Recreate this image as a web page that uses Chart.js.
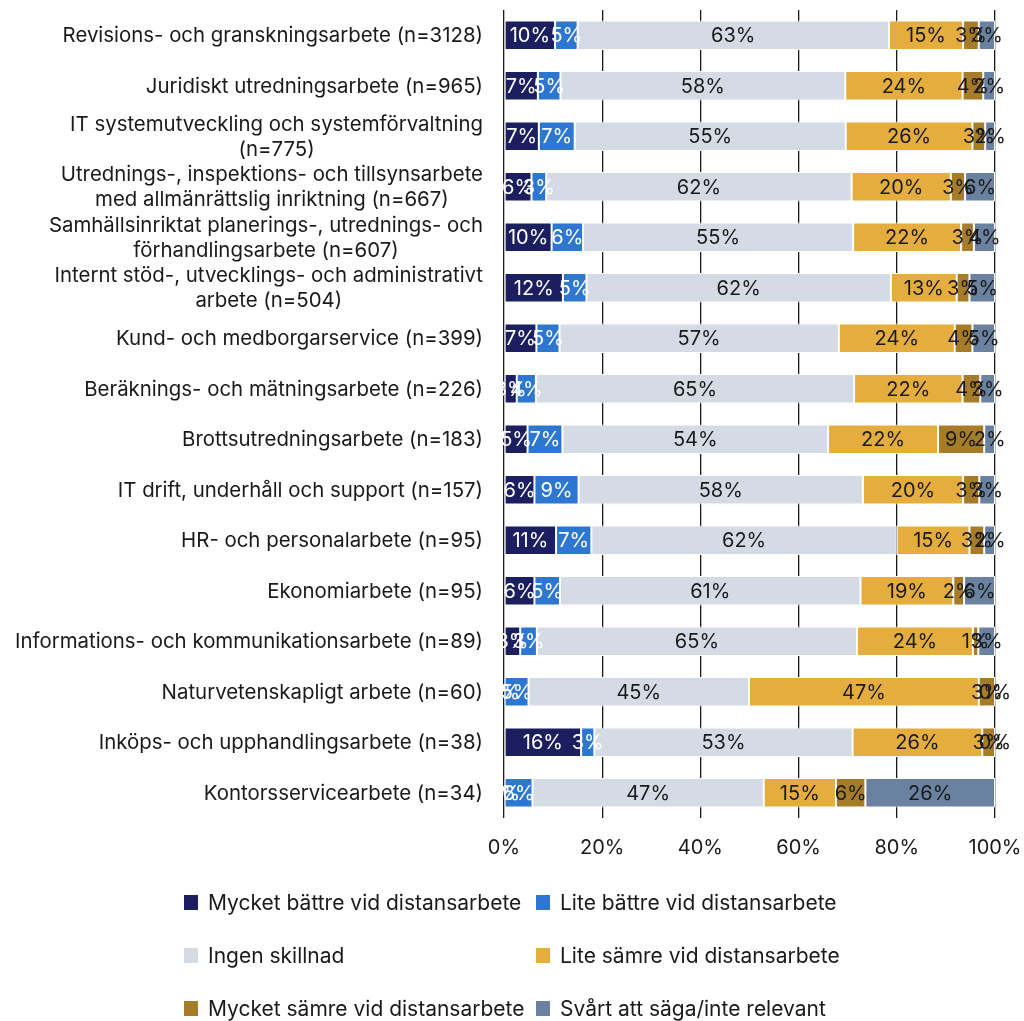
<!DOCTYPE html>
<html>
<head>
<meta charset="utf-8">
<script src="https://cdn.jsdelivr.net/npm/chart.js@4/dist/chart.umd.min.js"></script>
<style>
  html, body { margin: 0; padding: 0; background: #ffffff; }
  #wrap { width: 1024px; height: 1021px; position: relative; }
</style>
</head>
<body>
<div id="wrap"><canvas id="c"></canvas></div>
<script>
// Yrkesområden (kategorier) med antal svar
const categories = [
  "Revisions- och granskningsarbete (n=3128)",
  "Juridiskt utredningsarbete (n=965)",
  ["IT systemutveckling och systemförvaltning", "(n=775)"],
  ["Utrednings-, inspektions- och tillsynsarbete", "med allmänrättslig inriktning (n=667)"],
  ["Samhällsinriktat planerings-, utrednings- och", "förhandlingsarbete (n=607)"],
  ["Internt stöd-, utvecklings- och administrativt", "arbete (n=504)"],
  "Kund- och medborgarservice (n=399)",
  "Beräknings- och mätningsarbete (n=226)",
  "Brottsutredningsarbete (n=183)",
  "IT drift, underhåll och support (n=157)",
  "HR- och personalarbete (n=95)",
  "Ekonomiarbete (n=95)",
  "Informations- och kommunikationsarbete (n=89)",
  "Naturvetenskapligt arbete (n=60)",
  "Inköps- och upphandlingsarbete (n=38)",
  "Kontorsservicearbete (n=34)"
];

const seriesNames = [
  "Mycket bättre vid distansarbete",
  "Lite bättre vid distansarbete",
  "Ingen skillnad",
  "Lite sämre vid distansarbete",
  "Mycket sämre vid distansarbete",
  "Svårt att säga/inte relevant"
];

// Andel svarande (%) per svarsalternativ
const muchBetter     = [10.4, 6.9, 7.1, 5.6, 9.7, 12.0, 6.6, 2.6, 4.8, 6.2, 10.6, 6.2, 3.3, 0.0, 15.7, 0.0];
const slightlyBetter = [4.6, 4.6, 7.3, 3.0, 6.4, 4.8, 4.7, 3.9, 7.1, 9.0, 7.2, 5.2, 3.4, 5.0, 2.7, 5.8];
const noDifference   = [63.4, 58.0, 55.2, 62.2, 55.0, 62.0, 56.9, 64.8, 54.1, 57.9, 62.2, 61.2, 65.2, 44.9, 52.6, 47.1];
const slightlyWorse  = [15.1, 23.9, 25.8, 20.2, 22.0, 13.4, 23.6, 22.1, 22.4, 20.4, 14.8, 18.9, 23.6, 46.8, 26.4, 14.7];
const muchWorse      = [3.2, 4.2, 2.6, 2.9, 2.6, 2.6, 3.6, 3.6, 9.4, 3.3, 3.0, 2.2, 1.1, 3.3, 2.6, 6.0];
const hardToSay      = [3.3, 2.4, 2.0, 6.1, 4.3, 5.2, 4.6, 3.0, 2.2, 3.2, 2.2, 6.3, 3.4, 0.0, 0.0, 26.4];

const xTickValues = [0, 20, 40, 60, 80, 100];

const seriesValues = [muchBetter, slightlyBetter, noDifference, slightlyWorse, muchWorse, hardToSay];
const seriesColors = ["#1c1f5f", "#2e77d0", "#d5dbe5", "#e4ad3e", "#a67c29", "#6a82a0"];
const labelColors  = ["#ffffff", "#ffffff", "#1a1a1a", "#1a1a1a", "#1a1a1a", "#1a1a1a"];

const FONT = "Inter, Roboto, 'Liberation Sans', sans-serif";
const FONT_SIZE = 20;
const CATEGORY_FONT_SIZE = 20.4;
const LEGEND_FONT_SIZE = 21;

// Procentetiketter mitt i varje segment
const segmentLabels = {
  id: "segmentLabels",
  afterDatasetsDraw(chart) {
    const ctx = chart.ctx;
    ctx.save();
    ctx.font = FONT_SIZE + "px " + FONT;
    ctx.textAlign = "center";
    ctx.textBaseline = "middle";
    chart.data.datasets.forEach((ds, di) => {
      const meta = chart.getDatasetMeta(di);
      ctx.fillStyle = labelColors[di];
      meta.data.forEach((bar, i) => {
        const v = ds.data[i];
        const cx = (bar.x + bar.base) / 2;
        ctx.fillText(Math.round(v) + "%", cx, bar.y + 1);
      });
    });
    ctx.restore();
  }
};

// Kategorietiketter: högerställda block, flerradiga centrerade inom blocket
const categoryLabels = {
  id: "categoryLabels",
  afterDraw(chart) {
    const ctx = chart.ctx;
    const scale = chart.scales.y;
    const right = chart.chartArea.left - 21;
    const lineH = 25;
    ctx.save();
    ctx.font = CATEGORY_FONT_SIZE + "px " + FONT;
    ctx.fillStyle = "#1a1a1a";
    ctx.textBaseline = "middle";
    ctx.textAlign = "center";
    categories.forEach((cat, i) => {
      const lines = Array.isArray(cat) ? cat : [cat];
      const w = Math.max(...lines.map(l => ctx.measureText(l).width));
      const cx = right - w / 2;
      const cy = scale.getPixelForValue(i);
      const y0 = cy - (lines.length - 1) * lineH / 2;
      lines.forEach((l, k) => ctx.fillText(l, cx, y0 + k * lineH + 1));
    });
    ctx.restore();
  }
};

// Teckenförklaring i två kolumner
const gridLegend = {
  id: "gridLegend",
  afterDraw(chart) {
    const ctx = chart.ctx;
    const colX = [184, 536];
    const rowY = [903, 956, 1009];
    ctx.save();
    ctx.font = LEGEND_FONT_SIZE + "px " + FONT;
    ctx.textBaseline = "middle";
    ctx.textAlign = "left";
    seriesNames.forEach((name, i) => {
      const x = colX[i % 2];
      const y = rowY[Math.floor(i / 2)];
      ctx.fillStyle = seriesColors[i];
      ctx.fillRect(x, y - 8, 14, 15);
      ctx.fillStyle = "#1a1a1a";
      ctx.fillText(name, x + 24, y + 1);
    });
    ctx.restore();
  }
};

const datasets = seriesNames.map((name, i) => ({
  label: name,
  data: seriesValues[i],
  backgroundColor: seriesColors[i],
  borderColor: "#ffffff",
  borderWidth: 1,
  borderSkipped: false,
  barPercentage: 0.58,
  categoryPercentage: 1.0
}));

new Chart(document.getElementById("c"), {
  type: "bar",
  data: { labels: categories, datasets },
  options: {
    indexAxis: "y",
    responsive: true,
    maintainAspectRatio: false,
    animation: false,
    layout: { padding: { top: 10, right: 29, bottom: 143, left: 0 } },
    plugins: {
      legend: { display: false },
      tooltip: { enabled: false }
    },
    scales: {
      x: {
        stacked: true,
        min: 0,
        max: 100,
        afterBuildTicks(scale) {
          scale.ticks = xTickValues.map(v => ({ value: v }));
        },
        afterFit(scale) {
          scale.height = 60;
          scale.paddingLeft = 0;
          scale.paddingRight = 0;
        },
        grid: { color: "#1a1a1a", lineWidth: 1.3, drawTicks: false },
        border: { display: false },
        ticks: {
          padding: 18,
          color: "#1a1a1a",
          font: { family: FONT, size: FONT_SIZE },
          callback: v => v + "%"
        }
      },
      y: {
        stacked: true,
        afterFit(scale) {
          scale.width = 504;
          scale.paddingTop = 0;
          scale.paddingBottom = 0;
        },
        grid: { display: false },
        border: { display: false },
        ticks: {
          autoSkip: false,
          color: "rgba(0,0,0,0)",
          font: { family: FONT, size: 8 }
        }
      }
    }
  },
  plugins: [segmentLabels, categoryLabels, gridLegend]
});
</script>
</body>
</html>
